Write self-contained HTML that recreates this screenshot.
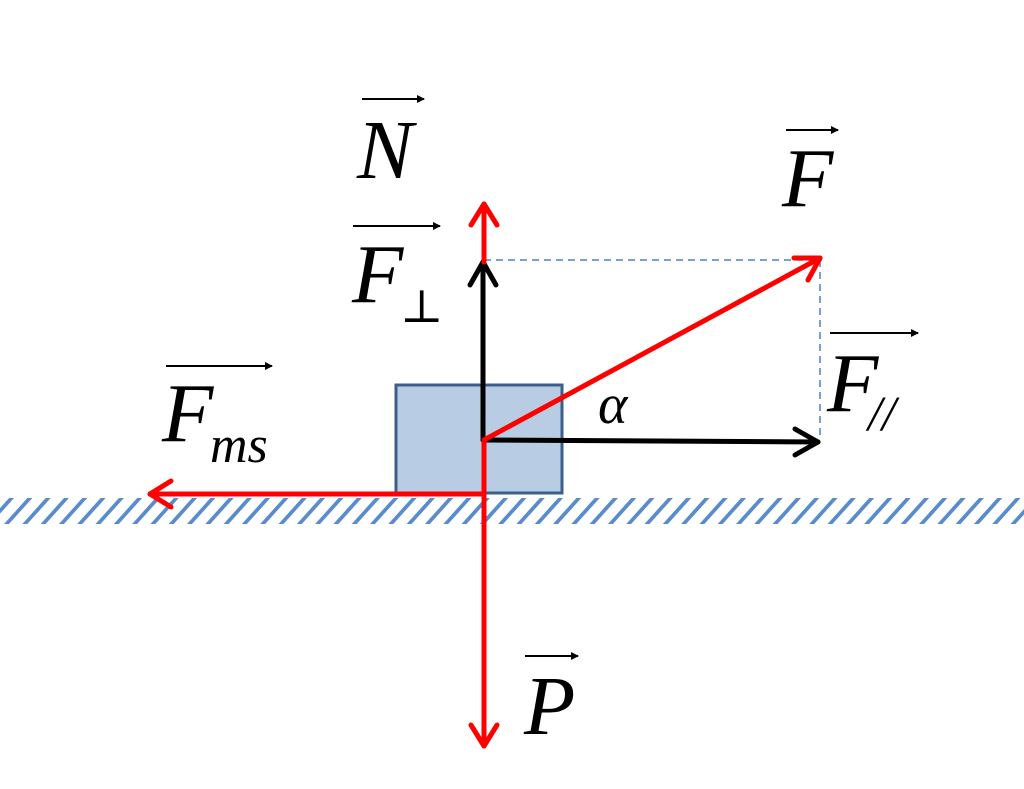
<!DOCTYPE html>
<html><head><style>
html,body{margin:0;padding:0;background:#fff;width:1024px;height:789px;overflow:hidden}
.t{font-family:"Liberation Serif","Times New Roman","DejaVu Serif",serif;font-style:italic;fill:#000}
</style></head><body>
<svg width="1024" height="789" viewBox="0 0 1024 789" xmlns="http://www.w3.org/2000/svg">
<defs>
<pattern id="hp" patternUnits="userSpaceOnUse" width="18.3" height="40" patternTransform="skewX(-42)">
<rect x="0" y="0" width="5" height="40" fill="#5a8ccc"/>
</pattern>
<marker id="ah" markerWidth="8" markerHeight="8" refX="7" refY="4" orient="auto" markerUnits="userSpaceOnUse">
<path d="M0,0 L8,4 L0,8 Z" fill="#000"/></marker>
</defs>
<rect x="0" y="498" width="1024" height="26" fill="url(#hp)"/>
<rect x="396" y="385" width="166" height="108" fill="#b8cce4" stroke="#3c5f8a" stroke-width="3"/>
<g stroke="#4f81c4" stroke-width="1.5" stroke-dasharray="7,5" fill="none">
<line x1="484" y1="260" x2="822" y2="260"/>
<line x1="820" y1="260" x2="820" y2="440"/>
</g>
<g stroke="#000" stroke-width="5" fill="none" stroke-linecap="round" stroke-linejoin="round">
<line x1="483" y1="440" x2="483" y2="262"/>
<polyline points="470,285 483,262 496,285"/>
<line x1="483" y1="440" x2="818" y2="442"/>
<polyline points="795,429 818,442 795,455"/>
</g>
<g stroke="#ff0000" stroke-width="5" fill="none" stroke-linecap="round" stroke-linejoin="round">
<line x1="484" y1="262" x2="484" y2="204"/>
<polyline points="471,225 484,204 497,225"/>
<line x1="484" y1="440" x2="484" y2="746"/>
<polyline points="471,725 484,746 497,725"/>
<line x1="484" y1="494" x2="150" y2="494"/>
<polyline points="171,481 150,494 171,507"/>
<line x1="484" y1="440" x2="820" y2="258"/>
<polyline points="794,258 820,258 808,280"/>
</g>
<g stroke="#000" stroke-width="2" marker-end="url(#ah)">
<line x1="362" y1="99" x2="424" y2="99"/>
<line x1="786" y1="130" x2="838" y2="130"/>
<line x1="353" y1="226" x2="440" y2="226"/>
<line x1="166" y1="366" x2="272" y2="366"/>
<line x1="830" y1="333" x2="918" y2="333"/>
<line x1="525" y1="656" x2="578" y2="656"/>
</g>
<g class="t">
<text class="t" x="357" y="178" font-size="84">N</text>
<text class="t" x="782" y="206" font-size="84">F</text>
<text class="t" x="352" y="302" font-size="84">F</text>
<text x="400" y="322" font-size="46" style="font-style:normal">⊥</text>
<text class="t" x="162" y="441" font-size="84">F</text>
<text class="t" x="210" y="462" font-size="52">ms</text>
<text class="t" x="827" y="411" font-size="84">F</text>
<text class="t" x="868" y="430" font-size="50">//</text>
<text class="t" x="598" y="423" font-size="56">α</text>
<text class="t" x="524" y="734" font-size="84">P</text>
</g>
</svg>
</body></html>
